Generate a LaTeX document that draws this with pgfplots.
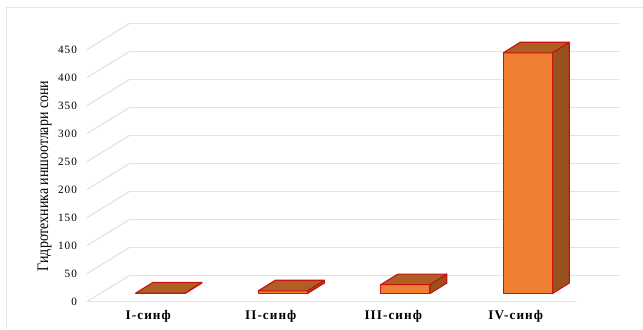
\documentclass[border=0pt]{standalone}
\usepackage{pgfplots}
\pgfplotsset{compat=1.18}
\usepackage{fontspec}
\setmainfont{Liberation Serif}
\newfontfamily\tickfont[LetterSpace=9]{Liberation Serif}
\newfontfamily\catfont[LetterSpace=8,BoldFont={Liberation Serif Bold}]{Liberation Serif}
\newfontfamily\labelfont[FakeStretch=0.87]{Liberation Serif}
\definecolor{gridc}{HTML}{DFE1EB}
\definecolor{framec}{HTML}{E3E5EE}
\definecolor{frontc}{HTML}{EE7F30}
\definecolor{topc}{HTML}{B05F24}
\definecolor{sidec}{HTML}{98521E}
\definecolor{edgec}{HTML}{C6140F}
% one oblique bar: #1 category position, #2 value
\newcommand{\prismbar}[2]{%
  \pgfmathsetmacro{\xl}{#1-0.1016}%
  \pgfmathsetmacro{\xr}{#1+0.2984}%
  \pgfmathsetmacro{\xd}{\xr+0.1388}%
  \pgfmathsetmacro{\xe}{\xl+0.1388}%
  \pgfmathsetmacro{\yb}{14.1}%
  \pgfmathsetmacro{\yt}{14.1+#2}%
  \pgfmathsetmacro{\ybd}{\yb+18.9}%
  \pgfmathsetmacro{\ytd}{\yt+18.9}%
  \addplot[barface, fill=sidec] coordinates {(\xr,\yb) (\xd,\ybd) (\xd,\ytd) (\xr,\yt)} -- cycle;
  \addplot[barface, fill=frontc] coordinates {(\xl,\yb) (\xr,\yb) (\xr,\yt) (\xl,\yt)} -- cycle;
  \addplot[barface, fill=topc] coordinates {(\xl,\yt) (\xr,\yt) (\xd,\ytd) (\xe,\ytd)} -- cycle;
}
\pgfplotsset{barface/.style={draw=edgec, line width=0.85pt, line join=round, mark=none, forget plot},
  wall/.style={draw=gridc, line width=0.85pt, mark=none, forget plot}}
\begin{document}
\begin{tikzpicture}
\useasboundingbox (0,0) rectangle (482.25pt,246.75pt);
\draw[framec, line width=0.85pt] (4.9pt,0) -- (4.9pt,241.4pt) -- (482.25pt,241.4pt);
\begin{axis}[
  at={(65.25pt,20.6pt)}, anchor=south west,
  scale only axis, width=399pt, height=208.35pt,
  xmin=-0.5, xmax=3.843, ymin=0, ymax=496.07,
  clip=false,
  axis line style={draw=none},
  major tick length=0pt,
  xtick={0,1,2,3},
  xticklabels={I-синф,II-синф,III-синф,IV-синф},
  ytick={0,50,100,150,200,250,300,350,400,450},
  /pgf/number format/assume math mode=true,
  yticklabel style={font=\tickfont\fontsize{8.4}{10}\selectfont, anchor=east, xshift=-4pt},
  xticklabel style={font=\catfont\bfseries\fontsize{9.9}{11}\selectfont, anchor=center, yshift=-10.8pt},
  ylabel={Гидротехника иншоотлари сони},
  ylabel style={font=\labelfont\fontsize{12}{14}\selectfont, at={(axis description cs:-0.0795,0.452)}, anchor=center, rotate=0},
]
% back wall lines and side wall diagonals
\addplot[wall] coordinates {(-0.157,45.9) (3.843,45.9)};
\addplot[wall] coordinates {(-0.157,95.9) (3.843,95.9)};
\addplot[wall] coordinates {(-0.157,145.9) (3.843,145.9)};
\addplot[wall] coordinates {(-0.157,195.9) (3.843,195.9)};
\addplot[wall] coordinates {(-0.157,245.9) (3.843,245.9)};
\addplot[wall] coordinates {(-0.157,295.9) (3.843,295.9)};
\addplot[wall] coordinates {(-0.157,345.9) (3.843,345.9)};
\addplot[wall] coordinates {(-0.157,395.9) (3.843,395.9)};
\addplot[wall] coordinates {(-0.157,445.9) (3.843,445.9)};
\addplot[wall] coordinates {(-0.157,495.9) (3.843,495.9)};
\addplot[wall] coordinates {(-0.5,0) (-0.157,45.9)};
\addplot[wall] coordinates {(-0.5,50) (-0.157,95.9)};
\addplot[wall] coordinates {(-0.5,100) (-0.157,145.9)};
\addplot[wall] coordinates {(-0.5,150) (-0.157,195.9)};
\addplot[wall] coordinates {(-0.5,200) (-0.157,245.9)};
\addplot[wall] coordinates {(-0.5,250) (-0.157,295.9)};
\addplot[wall] coordinates {(-0.5,300) (-0.157,345.9)};
\addplot[wall] coordinates {(-0.5,350) (-0.157,395.9)};
\addplot[wall] coordinates {(-0.5,400) (-0.157,445.9)};
\addplot[wall] coordinates {(-0.5,450) (-0.157,495.9)};
% floor front edge
\addplot[wall] coordinates {(-0.5,0) (3.5,0)};
% the four bars
\prismbar{0}{1}
\prismbar{1}{5}
\prismbar{2}{16}
\prismbar{3}{430}
\end{axis}
\end{tikzpicture}
\end{document}
